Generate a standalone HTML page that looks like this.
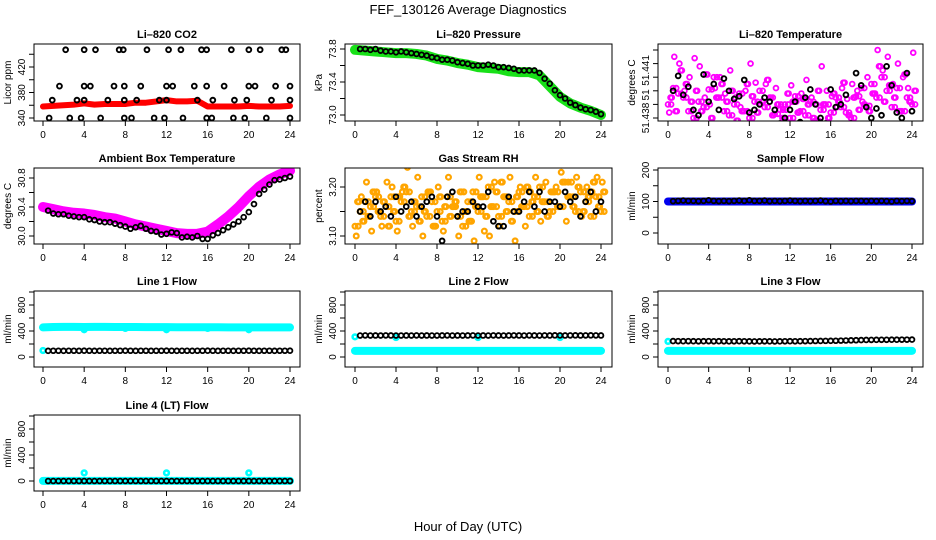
<!DOCTYPE html>
<html><head><meta charset="utf-8"><style>
html,body{margin:0;padding:0;background:#fff;}
svg{display:block;font-family:"Liberation Sans",sans-serif;}
</style></head><body>
<svg id="chart" width="936" height="540" viewBox="0 0 936 540">
<text x="468" y="14" text-anchor="middle" font-size="13">FEF_130126  Average Diagnostics</text>
<text x="468" y="531" text-anchor="middle" font-size="13">Hour of Day (UTC)</text>
</svg>
<script>
const halfHours=[0.5,1,1.5,2,2.5,3,3.5,4,4.5,5,5.5,6,6.5,7,7.5,8,8.5,9,9.5,10,10.5,11,11.5,12,12.5,13,13.5,14,14.5,15,15.5,16,16.5,17,17.5,18,18.5,19,19.5,20,20.5,21,21.5,22,22.5,23,23.5,24];
const gridHours=[0,0.5,1,1.5,2,2.5,3,3.5,4,4.5,5,5.5,6,6.5,7,7.5,8,8.5,9,9.5,10,10.5,11,11.5,12,12.5,13,13.5,14,14.5,15,15.5,16,16.5,17,17.5,18,18.5,19,19.5,20,20.5,21,21.5,22,22.5,23,23.5,24];
const hourly=[0,1,2,3,4,5,6,7,8,9,10,11,12,13,14,15,16,17,18,19,20,21,22,23,24];
const xTicks=[0,4,8,12,16,20,24];

// CO2
const co2Red=[358,359,360,361,363,361,362,362,362,364,364,366,368,366,366,367,358,358,358,358,359,358,358,358,359];
const co2Hours=[2.2,4.0,5.1,7.4,7.8,10.1,12.2,13.4,15.4,15.9,18.3,20.0,21.1,23.2,23.6, 1.6,4.0,4.6,6.9,7.9,9.5,12.0,12.6,14.7,15.9,17.6,20.0,20.6,22.6,24.0, 0.9,3.3,4.0,6.3,7.9,9.1,11.3,12.0,15.0,16.5,18.6,19.8,22.2,24.0, 0.6,2.6,3.7,5.6,7.9,8.6,10.8,11.8,13.6,15.9,16.4,18.5,19.6,21.7,24.0];
const co2Vals=[447,447,447,447,447,447,447,447,447,447,447,447,447,447,447, 390,390,390,390,390,390,390,390,390,390,390,390,390,390,390, 368,368,368,368,368,368,368,368,368,368,368,368,368,368, 340,340,340,340,340,340,340,340,340,340,340,340,340,340,340];
// Pressure
const presGreen=[73.79,73.78,73.77,73.76,73.75,73.75,73.74,73.72,73.68,73.66,73.63,73.61,73.58,73.57,73.56,73.53,73.52,73.52,73.48,73.35,73.22,73.14,73.09,73.05,73.00];
const presBlack=[73.80,73.80,73.79,73.80,73.78,73.77,73.77,73.76,73.77,73.76,73.75,73.74,73.73,73.72,73.70,73.69,73.67,73.67,73.66,73.64,73.63,73.62,73.60,73.60,73.60,73.61,73.60,73.58,73.58,73.57,73.56,73.54,73.54,73.54,73.54,73.51,73.44,73.38,73.30,73.24,73.20,73.15,73.12,73.09,73.07,73.06,73.04,73.01];
// Li-820 temperature
const tempA=[51.4390,51.4402,51.4398,51.4395,51.4385,51.4380,51.4392,51.4388,51.4401,51.4410,51.4395,51.4385,51.4382,51.4390,51.4398,51.4385,51.4380,51.4392,51.4400,51.4388,51.4395,51.4383,51.4386,51.4390,51.4380,51.4396,51.4385,51.4382,51.4392,51.4378,51.4386,51.4390,51.4384,51.4395,51.4388,51.4384,51.4380,51.4396,51.4402,51.4389,51.4405,51.4395,51.4410,51.4400,51.4388,51.4402,51.4385,51.4395,51.4390];
const tempB=[51.4395,51.4385,51.4415,51.4405,51.4392,51.4400,51.4385,51.4412,51.4380,51.4395,51.4405,51.4392,51.4400,51.4378,51.4385,51.4405,51.4396,51.4384,51.4392,51.4408,51.4382,51.4390,51.4380,51.4398,51.4392,51.4384,51.4394,51.4390,51.4380,51.4400,51.4390,51.4380,51.4398,51.4392,51.4406,51.4382,51.4395,51.4386,51.4390,51.4385,51.4398,51.4418,51.4392,51.4404,51.4395,51.4385,51.4412,51.4392,51.4400];
const tempC=[51.4384,51.4425,51.4420,51.4400,51.4410,51.4424,51.4418,51.4395,51.4390,51.4402,51.4410,51.4398,51.4415,51.4395,51.4388,51.4400,51.4420,51.4406,51.4390,51.4405,51.4395,51.4402,51.4390,51.4386,51.4404,51.4392,51.4398,51.4408,51.4395,51.4390,51.4418,51.4400,51.4396,51.4388,51.4402,51.4394,51.4405,51.4400,51.4392,51.4410,51.4398,51.4430,51.4415,51.4425,51.4405,51.4420,51.4410,51.4402,51.4428];
const tempBlack=[51.4400,51.4411,51.4397,51.4403,51.4386,51.4382,51.4412,51.4392,51.4405,51.4386,51.4409,51.4400,51.4394,51.4396,51.4408,51.4384,51.4386,51.4390,51.4395,51.4392,51.4386,51.4376,51.4380,51.4386,51.4392,51.4377,51.4395,51.4401,51.4390,51.4380,51.4376,51.4401,51.4388,51.4390,51.4397,51.4376,51.4413,51.4404,51.4388,51.4380,51.4387,51.4382,51.4418,51.4404,51.4384,51.4380,51.4413,51.4385];
// Ambient
const ambMag=[30.40,30.37,30.34,30.32,30.31,30.29,30.26,30.24,30.20,30.16,30.13,30.10,30.07,30.04,30.03,30.03,30.06,30.16,30.27,30.40,30.55,30.68,30.78,30.85,30.90];
const ambBlack=[30.35,30.31,30.30,30.30,30.28,30.27,30.26,30.26,30.23,30.22,30.20,30.19,30.19,30.17,30.15,30.13,30.10,30.12,30.14,30.10,30.07,30.06,30.02,30.03,30.05,30.04,29.98,29.99,29.98,30.00,29.96,29.96,30.01,30.04,30.08,30.12,30.16,30.20,30.26,30.33,30.44,30.58,30.64,30.71,30.77,30.78,30.80,30.82];
// RH
const rhA=[3.12,3.15,3.17,3.16,3.18,3.14,3.16,3.18,3.13,3.17,3.19,3.15,3.16,3.18,3.14,3.17,3.15,3.13,3.18,3.16,3.14,3.12,3.17,3.19,3.15,3.18,3.20,3.16,3.14,3.18,3.17,3.15,3.19,3.16,3.14,3.18,3.20,3.17,3.15,3.19,3.16,3.21,3.18,3.15,3.19,3.17,3.14,3.18,3.15];
const rhB=[3.17,3.13,3.14,3.19,3.15,3.17,3.12,3.15,3.18,3.20,3.14,3.17,3.13,3.15,3.19,3.12,3.18,3.16,3.14,3.17,3.19,3.15,3.13,3.16,3.18,3.14,3.16,3.19,3.21,3.15,3.13,3.18,3.16,3.20,3.17,3.15,3.17,3.14,3.19,3.16,3.21,3.18,3.16,3.20,3.15,3.18,3.21,3.16,3.19];
const rhC=[3.10,3.18,3.21,3.11,3.19,3.12,3.21,3.20,3.11,3.19,3.24,3.12,3.22,3.10,3.19,3.12,3.20,3.11,3.22,3.16,3.10,3.19,3.13,3.09,3.22,3.11,3.10,3.21,3.12,3.18,3.22,3.09,3.20,3.12,3.19,3.22,3.13,3.21,3.19,3.20,3.23,3.13,3.21,3.22,3.14,3.20,3.19,3.22,3.21];
const rhBlack=[3.15,3.17,3.14,3.17,3.15,3.16,3.14,3.18,3.15,3.16,3.17,3.14,3.16,3.17,3.18,3.14,3.09,3.18,3.19,3.14,3.15,3.15,3.17,3.16,3.16,3.19,3.13,3.12,3.12,3.18,3.15,3.15,3.17,3.19,3.16,3.19,3.15,3.17,3.17,3.16,3.19,3.17,3.18,3.14,3.17,3.19,3.15,3.17];
// Sample flow
const sampleBlue=[100,100,100,100,100,100,100,100,100,100,100,100,100,100,100,100,100,100,100,100,100,100,100,100,100];
const sampleBlack=[101,102,103,102,102,101,102,104,102,101,102,101,102,103,102,104,102,102,103,101,102,101,102,103,102,101,102,101,102,103,101,100,102,101,102,101,102,102,101,102,101,102,101,100,102,101,102,101];
// Line flows
const l1Cyan=[455,462,463,463,462,463,463,462,462,461,460,459,459,458,458,458,457,457,456,456,456,455,455,455,455];
const l1Black=[95,96,96,95,96,96,95,97,96,95,96,96,95,96,96,97,96,95,96,96,95,96,96,97,96,95,96,96,95,96,96,97,96,95,96,96,95,96,96,97,96,95,96,96,95,96,96,97];
const l1CyanPtsH=[0,4,12,20,8,16];
const l1CyanPtsV=[100,420,420,420,440,440];
const l2Cyan=[95,95,95,95,95,95,95,95,95,95,95,95,95,95,95,95,95,95,95,95,95,95,95,95,95];
const l2Black=[330,332,330,331,330,332,331,330,330,331,330,332,330,331,330,330,331,332,330,331,330,331,332,330,331,330,332,331,330,331,332,331,330,332,331,330,332,331,333,332,331,332,333,331,332,333,332,331];
const l2CyanPtsH=[0,4,12,20];
const l2CyanPtsV=[310,300,300,300];
const l3Cyan=[95,95,95,95,95,95,95,95,95,95,95,95,95,95,95,95,95,95,95,95,95,95,95,95,95];
const l3Black=[245,244,243,244,243,242,243,244,242,243,242,241,242,243,242,241,240,241,242,241,240,241,242,243,242,243,244,245,246,247,248,249,250,252,254,256,258,260,262,263,264,265,265,266,266,267,267,268];
const l3CyanPtsH=[0];
const l3CyanPtsV=[240];
const l4Cyan=[2,2,2,2,2,2,2,2,2,2,2,2,2,2,2,2,2,2,2,2,2,2,2,2,2];
const l4Black=[0,0,0,0,0,0,0,0,0,0,0,0,0,0,0,0,0,0,0,0,0,0,0,0,0,0,0,0,0,0,0,0,0,0,0,0,0,0,0,0,0,0,0,0,0,0,0,0];
const l4CyanPtsH=[0,4,12,20];
const l4CyanPtsV=[5,125,125,125];

const NS="http://www.w3.org/2000/svg";
const svg=document.getElementById('chart');
function mk(tag,attrs,parent){const e=document.createElementNS(NS,tag);for(const k in attrs)e.setAttribute(k,attrs[k]);(parent||svg).appendChild(e);return e;}

const cols=[{bl:34,br:300,x0:43,x24:290},{bl:345,br:612,x0:355,x24:601},{bl:658,br:923,x0:668,x24:912}];
const rows=[{t:44,b:121},{t:168,b:244},{t:291,b:367},{t:415,b:491}];

function panel(o){
  const c=cols[o.col],r=rows[o.row];
  const g=mk('g',{});
  
  
  const xs=h=>c.x0+(h/24)*(c.x24-c.x0);
  const ys=v=>o.a[1]+(v-o.a[0])*(o.b[1]-o.a[1])/(o.b[0]-o.a[0]);
  const cl=mk('clipPath',{id:'clip-'+o.name},g);
  mk('rect',{x:c.bl,y:r.t,width:c.br-c.bl,height:r.b-r.t},cl);
  const data=mk('g',{'clip-path':'url(#clip-'+o.name+')'},g);
  
  
  o.draw(data,xs,ys);
  const box=mk('rect',{x:c.bl,y:r.t,width:c.br-c.bl,height:r.b-r.t,fill:'none',stroke:'#000','stroke-width':1},g);
  
  
  const t=mk('text',{x:(c.bl+c.br)/2,y:r.t-6,'text-anchor':'middle','font-size':11,'font-weight':'bold'},g);
  t.textContent=o.title;
  
  
  mk('line',{x1:xs(0),x2:xs(24),y1:r.b,y2:r.b,stroke:'#000'},g);
  xTicks.forEach(h=>{
    mk('line',{x1:xs(h),x2:xs(h),y1:r.b,y2:r.b+5,stroke:'#000'},g);
    const tl=mk('text',{x:xs(h),y:r.b+17,'text-anchor':'middle','font-size':10},g);
    tl.textContent=h;
    
    
  });
  const yt=o.ticks.map(ys);
  mk('line',{x1:c.bl,x2:c.bl,y1:Math.min(...yt),y2:Math.max(...yt),stroke:'#000'},g);
  o.ticks.forEach(v=>mk('line',{x1:c.bl-5,x2:c.bl,y1:ys(v),y2:ys(v),stroke:'#000'},g));
  o.labVals.forEach((v,i)=>{
    const y=ys(v),x=c.bl-9;
    const tl=mk('text',{x:x,y:y,'text-anchor':'middle','font-size':10,transform:'rotate(-90 '+x+' '+y+')'},g);
    tl.textContent=o.labels[i];
    
    
  });
  const yx=c.bl-23,yy=(r.t+r.b)/2;
  const yl=mk('text',{x:yx,y:yy,'text-anchor':'middle','font-size':10,transform:'rotate(-90 '+yx+' '+yy+')'},g);
  yl.textContent=o.ylab;
  
  
}
function band(g,xs,ys,hs,vs,color,w,name){
  const p=mk('polyline',{points:hs.map((h,i)=>xs(h)+','+ys(vs[i])).join(' '),fill:'none',stroke:color,'stroke-width':w,'stroke-linejoin':'round','stroke-linecap':'round'},g);
  
  
}
function pts(g,xs,ys,hs,vs,color,name,off,sw){
  vs.forEach((v,i)=>{
    const e=mk('circle',{cx:xs(hs[i]+(off||0)),cy:ys(v),r:2.4,fill:'none',stroke:color,'stroke-width':sw||1.5},g);
    
    
  });
}
const flowTicks=[0,200,400,600,800,1000],flowLabV=[0,400,800],flowLab=['0','400','800'];

panel({name:'co2-panel',title:'Li\u2013820 CO2',ylab:'Licor ppm',col:0,row:0,a:[340,118],b:[420,67],
  ticks:[340,360,380,400,420,440],labVals:[340,380,420],labels:['340','380','420'],
  draw:(g,xs,ys)=>{band(g,xs,ys,hourly,co2Red,'#ff0000',6,'co2-red-series');pts(g,xs,ys,co2Hours,co2Vals,'#000','co2-point',0,1.9);}});
panel({name:'pressure-panel',title:'Li\u2013820 Pressure',ylab:'kPa',col:1,row:0,a:[73.0,115],b:[73.8,49],
  ticks:[73.0,73.2,73.4,73.6,73.8],labVals:[73.0,73.4,73.8],labels:['73.0','73.4','73.8'],
  draw:(g,xs,ys)=>{band(g,xs,ys,hourly,presGreen,'#18e018',10,'pressure-green-series');pts(g,xs,ys,halfHours,presBlack,'#000','pressure-point',0,1.8);}});
panel({name:'temperature-panel',title:'Li\u2013820 Temperature',ylab:'degrees C',col:2,row:0,a:[51.438,118],b:[51.441,77.2],
  ticks:[51.438,51.439,51.440,51.441,51.442,51.443],labVals:[51.438,51.4397,51.4415],labels:['51.438','51','51.441'],
  draw:(g,xs,ys)=>{pts(g,xs,ys,gridHours,tempA,'#ff00ff','temperature-magenta-point',0,1.8);pts(g,xs,ys,gridHours,tempB,'#ff00ff','temperature-magenta-point',0.25,1.8);pts(g,xs,ys,gridHours,tempC,'#ff00ff','temperature-magenta-point',0.12,1.8);pts(g,xs,ys,gridHours,tempB,'#ff00ff','temperature-magenta-point',0.37,1.8);pts(g,xs,ys,gridHours,tempA,'#ff00ff','temperature-magenta-point',0.31,1.8);pts(g,xs,ys,halfHours,tempBlack,'#000','temperature-point',0,1.9);}});
panel({name:'ambient-panel',title:'Ambient Box Temperature',ylab:'degrees C',col:0,row:1,a:[30.0,236],b:[30.8,178],
  ticks:[30.0,30.2,30.4,30.6,30.8],labVals:[30.0,30.4,30.8],labels:['30.0','30.4','30.8'],
  draw:(g,xs,ys)=>{band(g,xs,ys,hourly,ambMag,'#ff00ff',10,'ambient-magenta-series');pts(g,xs,ys,halfHours,ambBlack,'#000','ambient-point',0,1.8);}});
panel({name:'rh-panel',title:'Gas Stream RH',ylab:'percent',col:1,row:1,a:[3.10,236],b:[3.20,187],
  ticks:[3.10,3.15,3.20],labVals:[3.10,3.20],labels:['3.10','3.20'],
  draw:(g,xs,ys)=>{pts(g,xs,ys,gridHours,rhA,'#ffa500','rh-orange-point',0,2.2);pts(g,xs,ys,gridHours,rhB,'#ffa500','rh-orange-point',0.25,2.2);pts(g,xs,ys,gridHours,rhC,'#ffa500','rh-orange-point',0.12,2.2);pts(g,xs,ys,gridHours,rhB,'#ffa500','rh-orange-point',0.37,2.2);pts(g,xs,ys,gridHours,rhA,'#ffa500','rh-orange-point',0.31,2.2);pts(g,xs,ys,halfHours,rhBlack,'#000','rh-point',0,1.9);}});
panel({name:'sample-flow-panel',title:'Sample Flow',ylab:'ml/min',col:2,row:1,a:[0,233],b:[200,170],
  ticks:[0,50,100,150,200],labVals:[0,100,200],labels:['0','100','200'],
  draw:(g,xs,ys)=>{band(g,xs,ys,hourly,sampleBlue,'#0000ee',8,'sample-blue-series');pts(g,xs,ys,halfHours,sampleBlack,'#000','sample-point',0,1.8);}});
function flowPanel(name,title,col,row,y0,cy,bv,ph,pv){
  panel({name:name,title:title,ylab:'ml/min',col:col,row:row,a:[0,y0],b:[800,y0-52],
    ticks:flowTicks,labVals:flowLabV,labels:flowLab,
    draw:(g,xs,ys)=>{band(g,xs,ys,hourly,cy,'#00ffff',8,name+'-cyan-series');pts(g,xs,ys,ph,pv,'#00ffff',name+'-cyan-point',0,2.5);pts(g,xs,ys,halfHours,bv,'#000',name+'-point',0,1.8);}});
}
flowPanel('line1-flow-panel','Line 1 Flow',0,2,357,l1Cyan,l1Black,l1CyanPtsH,l1CyanPtsV);
flowPanel('line2-flow-panel','Line 2 Flow',1,2,357,l2Cyan,l2Black,l2CyanPtsH,l2CyanPtsV);
flowPanel('line3-flow-panel','Line 3 Flow',2,2,357,l3Cyan,l3Black,l3CyanPtsH,l3CyanPtsV);
flowPanel('line4-flow-panel','Line 4 (LT) Flow',0,3,481,l4Cyan,l4Black,l4CyanPtsH,l4CyanPtsV);
</script>
</body></html>
